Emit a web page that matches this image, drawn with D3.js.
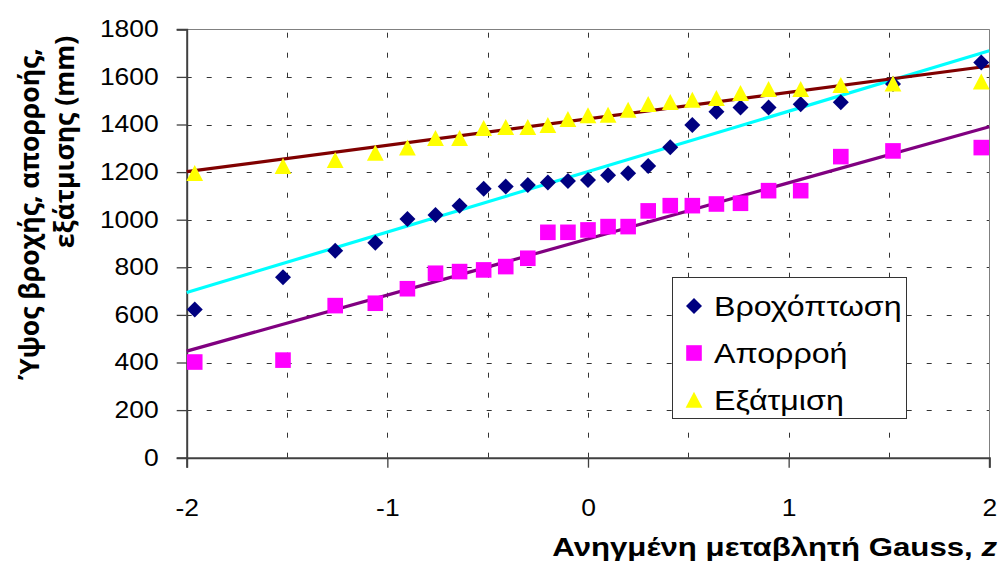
<!DOCTYPE html>
<html>
<head>
<meta charset="utf-8">
<script src="https://cdn.jsdelivr.net/npm/d3@7"></script>
<style>
  html, body { margin: 0; padding: 0; background: #fff; }
  svg { display: block; }
</style>
</head>
<body>
<svg id="chart" width="999" height="563"></svg>
<script>
// Standardised Gauss variable (plotting positions) shared by the three series
const zValues = [-1.96, -1.52, -1.26, -1.06, -0.90, -0.76, -0.64, -0.52, -0.41, -0.30, -0.20, -0.10, 0,
                 0.10, 0.20, 0.30, 0.41, 0.52, 0.64, 0.76, 0.90, 1.06, 1.26, 1.52, 1.96];

// Annual depths, mm (sorted)
const rainfall = [623, 758, 870, 903, 1003, 1020, 1059, 1130, 1139, 1146, 1156, 1163, 1167,
                  1187, 1195, 1226, 1304, 1398, 1454, 1471, 1471, 1485, 1494, 1570, 1660];
const runoff = [402, 410, 639, 649, 710, 775, 782, 789, 803, 838, 947, 947, 957,
                971, 971, 1037, 1059, 1059, 1066, 1069, 1122, 1122, 1265, 1289, 1303];
const evaporation = [1195, 1225, 1250, 1280, 1303, 1342, 1342, 1384, 1389, 1389, 1397, 1422, 1438,
                     1440, 1461, 1485, 1494, 1503, 1510, 1532, 1548, 1548, 1565, 1571, 1580];

const seriesNames = ["Βροχόπτωση", "Απορροή", "Εξάτμιση"];
const xTicks = [-2, -1, 0, 1, 2];
const xGrid = [-1.5, -1, -0.5, 0, 0.5, 1, 1.5, 2];
const yTicks = [0, 200, 400, 600, 800, 1000, 1200, 1400, 1600, 1800];
const yTitleLines = ["Ύψος βροχής, απορροής,", "εξάτμισης (mm)"];
const xTitle = "Ανηγμένη μεταβλητή Gauss, ";
const xTitleVar = "z";

const svg = d3.select("#chart");
const plot = { left: 186.7, right: 989.3, top: 29.3, bottom: 457.7 };
const stretch = 1.15; // horizontal widening of the Arial-style labels
const sans = "'Liberation Sans', Arial, sans-serif";

const x = d3.scaleLinear().domain([-2, 2]).range([plot.left, plot.right]);
const y = d3.scaleLinear().domain([0, 1800]).range([plot.bottom, plot.top]);

// Grid (dashed)
const grid = svg.append("g").attr("stroke", "#333").attr("stroke-width", 1)
  .attr("stroke-dasharray", "5,15");
grid.selectAll("line.h").data(yTicks.filter(d => d > 0)).join("line")
  .attr("x1", plot.left).attr("x2", plot.right)
  .attr("y1", d => Math.round(y(d)) + 0.5).attr("y2", d => Math.round(y(d)) + 0.5);
grid.selectAll("line.v").data(xGrid).join("line")
  .attr("y1", plot.bottom).attr("y2", plot.top)
  .attr("x1", d => Math.round(x(d)) + 0.5).attr("x2", d => Math.round(x(d)) + 0.5);

// Plot area frame (top and right)
svg.append("path")
  .attr("d", `M${plot.left},${Math.round(plot.top) + 0.5}H${Math.round(plot.right) + 0.5}V${plot.bottom}`)
  .attr("fill", "none").attr("stroke", "#808080").attr("stroke-width", 1);

// Axes
const yAxis = d3.axisLeft(y).tickValues(yTicks).tickSize(10).tickPadding(18).tickFormat(d3.format("d"));
const xAxis = d3.axisBottom(x).tickValues(xTicks).tickSize(10).tickPadding(32).tickFormat(d => d < 0 ? "-" + Math.abs(d) : d);

const gy = svg.append("g").attr("transform", `translate(${plot.left},0)`).call(yAxis);
const gx = svg.append("g").attr("transform", `translate(0,${plot.bottom})`).call(xAxis);
[gx, gy].forEach(g => {
  g.select(".domain").attr("stroke", "#404040").attr("stroke-width", 2);
  g.selectAll(".tick line").attr("stroke", "#404040").attr("stroke-width", 1.3);
  g.selectAll(".tick text").attr("fill", "#000")
    .style("font-family", sans).style("font-size", "23px");
});
// widen tick labels about their anchor
gy.selectAll(".tick text").each(function () {
  const t = d3.select(this);
  const tx = +t.attr("x");
  t.attr("x", 0).attr("transform", `translate(${tx},0) scale(${stretch},1)`);
});
gx.selectAll(".tick text").each(function () {
  const t = d3.select(this);
  const ty = +t.attr("y");
  t.attr("y", 0).attr("transform", `translate(0,${ty}) scale(${stretch},1)`);
});

// Fitted normal distribution lines: depth = mean + sigma * z (population sigma)
function normalLine(values) {
  const m = d3.mean(values);
  const s = Math.sqrt(d3.mean(values, v => (v - m) ** 2));
  return z => m + s * z;
}
const trends = [
  { data: rainfall, color: "#00FFFF" },
  { data: runoff, color: "#800080" },
  { data: evaporation, color: "#800000" }
];
trends.forEach(t => {
  const f = normalLine(t.data);
  svg.append("line")
    .attr("x1", x(-2)).attr("y1", y(f(-2)))
    .attr("x2", x(2)).attr("y2", y(f(2)))
    .attr("stroke", t.color).attr("stroke-width", 3.2);
});

// Markers
const series = [
  { data: rainfall, color: "#000080", shape: "diamond" },
  { data: runoff, color: "#FF00FF", shape: "square" },
  { data: evaporation, color: "#FFFF00", shape: "triangle" }
];
function markerPath(shape) {
  if (shape === "diamond") return "M0,-8L8,0L0,8L-8,0Z";
  if (shape === "square") return "M-7.8,-7.8H7.8V7.8H-7.8Z";
  return "M0,-8.2L8.4,7.8H-8.4Z";
}
series.forEach(s => {
  svg.append("g").selectAll("path").data(s.data).join("path")
    .attr("transform", (d, i) => `translate(${x(zValues[i])},${y(d)})`)
    .attr("d", markerPath(s.shape))
    .attr("fill", s.color);
});

// Legend
const lg = svg.append("g");
lg.append("rect").attr("x", 672.5).attr("y", 277.5).attr("width", 234).attr("height", 141)
  .attr("fill", "#fff").attr("stroke", "#333").attr("stroke-width", 1);
series.forEach((s, i) => {
  const cy = 306 + i * 47;
  lg.append("path").attr("transform", `translate(694,${cy})`)
    .attr("d", markerPath(s.shape)).attr("fill", s.color);
  lg.append("text")
    .attr("transform", `translate(714,${cy + 10}) scale(${stretch},1)`)
    .style("font-family", sans).style("font-size", "28px")
    .attr("fill", "#000").text(seriesNames[i]);
});

// Axis titles
const xt = svg.append("text")
  .attr("text-anchor", "end")
  .attr("transform", `translate(997,556) scale(1.2,1)`)
  .style("font-family", sans).style("font-size", "26px")
  .style("font-weight", "bold").attr("fill", "#000");
xt.append("tspan").text(xTitle);
xt.append("tspan").style("font-style", "italic").text(xTitleVar);

const ytPos = [{ x: 39, y: 214 }, { x: 74, y: 142 }];
yTitleLines.forEach((line, i) => {
  svg.append("text")
    .attr("text-anchor", "middle")
    .attr("transform", `translate(${ytPos[i].x},${ytPos[i].y}) rotate(-90)`)
    .style("font-family", "'Open Sans', 'DejaVu Sans', sans-serif").style("font-size", "26.5px")
    .style("font-weight", "bold").attr("fill", "#000").text(line);
});
</script>
</body>
</html>
